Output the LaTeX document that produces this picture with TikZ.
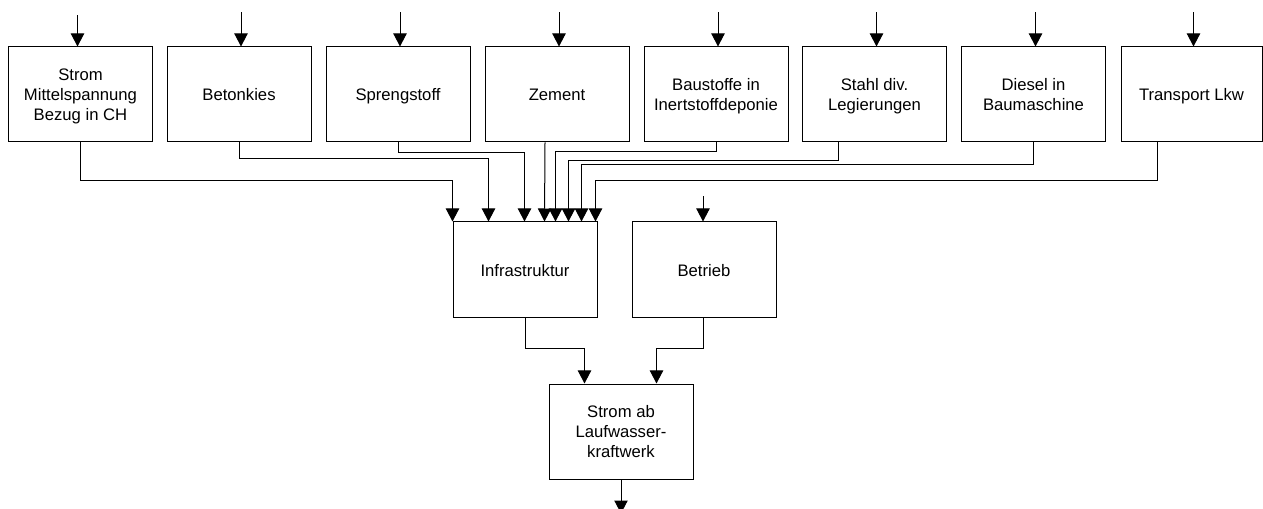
\documentclass[tikz,border=0pt]{standalone}
\usepackage{fontspec}
\setmainfont{Liberation Sans}
\usetikzlibrary{arrows.meta}
\begin{document}
\begin{tikzpicture}[x=0.75pt,y=-0.75pt,line width=0.75pt,
  >={Triangle[width=10pt,length=9.75pt]},
  proc/.style={draw,minimum width=108pt,minimum height=71.25pt,align=center,
    inner sep=0pt,text depth=0pt,font=\fontsize{12.5}{15}\selectfont}]
\useasboundingbox (0,0) rectangle (1263,509);

% input processes
\node[proc] (b1) at (80.5,94.5) {Strom\\Mittelspannung\\Bezug in CH};
\node[proc] (b2) at (239,94.5) {Betonkies};
\node[proc] (b3) at (398,94.5) {Sprengstoff};
\node[proc] (b4) at (557,94.5) {Zement};
\node[proc] (b5) at (716,94.5) {Baustoffe in\\Inertstoffdeponie};
\node[proc] (b6) at (874.5,94.5) {Stahl div.\\Legierungen};
\node[proc] (b7) at (1033.5,94.5) {Diesel in\\Baumaschine};
\node[proc,minimum width=105.75pt] (b8) at (1191.5,94.5) {Transport Lkw};

% middle and final processes
\node[proc,minimum height=72pt] (infra) at (525,270) {Infrastruktur};
\node[proc,minimum height=72pt] (betr) at (704,270) {Betrieb};
\node[proc] (out) at (621,431.5) {Strom ab\\Laufwasser-\\kraftwerk};

% incoming flows from above
\draw[->] ([shift={(-3,-31)}]b1.north) -- ([shift={(-3,0)}]b1.north);
\foreach \n in {b2,b3,b4,b5,b6,b7}
  \draw[->] ([shift={(2,-34)}]\n.north) -- ([shift={(2,0)}]\n.north);
\draw[->] ([shift={(2,-34)}]b8.north) -- ([shift={(2,0)}]b8.north);
\draw[->] ([shift={(-1,-25)}]betr.north) -- ([shift={(-1,0)}]betr.north);

% flows into the infrastructure
\draw[->] (b1.south) -- ++(0,38) -| ([shift={(0,0)}]infra.north west);
\draw[->] (b2.south) -- ++(0,16) -| ([shift={(36,0)}]infra.north west);
\draw[->] (b3.south) -- ++(0,10) -| ([shift={(72,0)}]infra.north west);
\draw[->] ([shift={(-12,0)}]b4.south) -- ([shift={(92,0)}]infra.north west);
\draw[->] (b5.south) -- ++(0,9.5) -| ([shift={(103,0)}]infra.north west);
\draw[->] ([shift={(-36.5,0)}]b6.south) -- ++(0,18) -| ([shift={(116,0)}]infra.north west);
\draw[->] (b7.south) -- ++(0,22) -| ([shift={(129,0)}]infra.north west);
\draw[->] ([shift={(-34.5,0)}]b8.south) -- ++(0,38) -| ([shift={(143,0)}]infra.north west);

% flows into the power plant
\draw[->] (infra.south) -- ++(0,30) -| ([shift={(36,0)}]out.north west);
\draw[->] ([shift={(-1,0)}]betr.south) -- ++(0,30) -| ([shift={(108,0)}]out.north west);

% output
\draw[->] (out.south) -- ([shift={(0,34)}]out.south);
\end{tikzpicture}
\end{document}
